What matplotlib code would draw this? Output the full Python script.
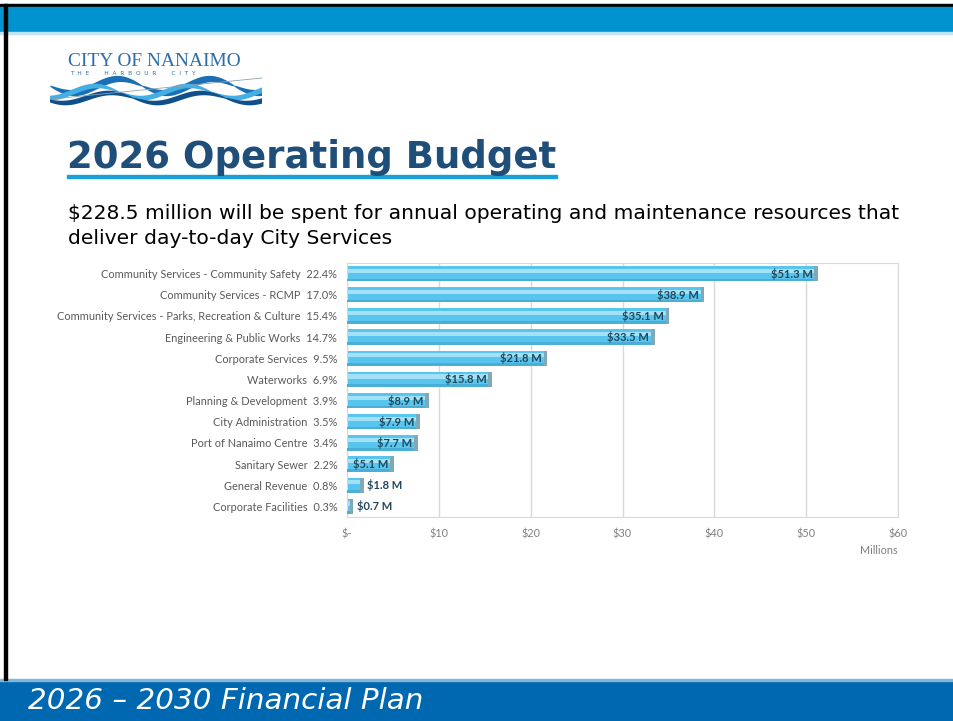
import numpy as np
import matplotlib
matplotlib.use("Agg")
import matplotlib.pyplot as plt
from matplotlib.patches import Rectangle, Polygon

# budget data (millions), top to bottom as shown
categories = [
    "Community Services - Community Safety",
    "Community Services - RCMP",
    "Community Services - Parks, Recreation & Culture",
    "Engineering & Public Works",
    "Corporate Services",
    "Waterworks",
    "Planning & Development",
    "City Administration",
    "Port of Nanaimo Centre",
    "Sanitary Sewer",
    "General Revenue",
    "Corporate Facilities",
]
percents = ["22.4%", "17.0%", "15.4%", "14.7%", "9.5%", "6.9%",
            "3.9%", "3.5%", "3.4%", "2.2%", "0.8%", "0.3%"]
amounts = [51.3, 38.9, 35.1, 33.5, 21.8, 15.8, 8.9, 7.9, 7.7, 5.1, 1.8, 0.7]
x_ticks = [0, 10, 20, 30, 40, 50, 60]
x_tick_labels = ["$-", "$10", "$20", "$30", "$40", "$50", "$60"]

W, H = 954, 721
fig = plt.figure(figsize=(W / 100, H / 100), dpi=100)
renderer = fig.canvas.get_renderer()


def fit_text(t, width_px):
    # shrink / grow font so the text spans the wanted pixel width
    w = t.get_window_extent(renderer).width
    t.set_fontsize(t.get_fontsize() * width_px / w)


# slide background layer in pixel coordinates
bg = fig.add_axes([0, 0, 1, 1])
bg.set_xlim(0, W)
bg.set_ylim(H, 0)
bg.axis("off")

bg.add_patch(Rectangle((0, 4), W, 3, color="black"))
bg.add_patch(Rectangle((0, 7), W, 25, color="#0093D0"))
bg.add_patch(Rectangle((0, 32), W, 2, color="#BFE3F3"))
bg.add_patch(Rectangle((0, 680), W, H - 680, color="#0067B1"))
bg.add_patch(Rectangle((0, 679), W, 1.5, color="#7FB6DD"))
bg.add_patch(Rectangle((4, 4), 3, 676, color="black"))

# logo
t = bg.text(68, 66, "CITY OF NANAIMO", family="Liberation Serif", fontsize=14,
            color="#2F6EA8", ha="left", va="baseline")
fit_text(t, 173)
bg.text(70, 75, "T  H  E        H  A  R  B  O  U  R        C  I  T  Y",
        family="DejaVu Sans", fontsize=4.2, color="#2F6EA8", va="baseline")
xs = np.linspace(50, 262, 200)
ph = (xs - 50) / 212
for off, amp, col, th, sh in [(86, 7, "#1B6FB5", 7, 0.0), (92, 6, "#45AEE3", 5, 0.25),
                              (98, 5, "#0E4F8C", 5, 0.1)]:
    yc = off + amp * np.sin((ph * 2.3 + sh) * 2 * np.pi)
    thick = th * np.sin(np.clip(((ph * 2.3 + sh) % 1.0), 0, 1) * np.pi) ** 0.6 + 0.5
    pts = np.column_stack([np.r_[xs, xs[::-1]], np.r_[yc - thick / 2, (yc + thick / 2)[::-1]]])
    bg.add_patch(Polygon(pts, closed=True, color=col, lw=0))
bg.plot([52, 262], [99, 78], color="#8FA3B0", lw=0.6)

# title and subtitle
t = bg.text(67, 168, "2026 Operating Budget", fontsize=30, fontweight="bold",
            family="DejaVu Sans", color="#1F4E79", va="baseline")
fit_text(t, 490)
bg.add_patch(Rectangle((67, 175), 490, 3, color="#1AA0D8"))
t = bg.text(68, 219, "$228.5 million will be spent for annual operating and maintenance resources that",
            fontsize=14, family="DejaVu Sans", color="black", va="baseline")
fit_text(t, 834)
bg.text(68, 244, "deliver day-to-day City Services",
        fontsize=t.get_fontsize(), family="DejaVu Sans", color="black", va="baseline")
t = bg.text(28, 709, "2026 \u2013 2030 Financial Plan", fontsize=20, family="DejaVu Sans",
            style="italic", color="white", va="baseline")
fit_text(t, 395)

# bar chart
ax = fig.add_axes([347 / W, (H - 517) / H, (898 - 347) / W, (517 - 263) / H])
y = np.arange(len(categories))
bh = 0.72
ax.barh(y, amounts, height=bh, color="#57C5EE", zorder=2)
ax.barh(y - 0.14, amounts, height=0.2, color="#A3E1F7", zorder=3)
ax.barh(y + bh / 2 - 0.06, amounts, height=0.12, color="#4AAFD6", zorder=3)
ax.barh(y, [0.4] * len(amounts), left=np.array(amounts) - 0.4, height=bh,
        color="#7FA8B8", zorder=4)

for yi, v in zip(y, amounts):
    lab = f"${v} M"
    if v >= 5:
        ax.text(v - 0.6, yi, lab, ha="right", va="center", fontsize=8,
                fontweight="bold", color="#21465A", family="Lato", zorder=5)
    else:
        ax.text(v + 0.4, yi, lab, ha="left", va="center", fontsize=8,
                fontweight="bold", color="#21465A", family="Lato", zorder=5)

ax.set_xlim(0, 60)
ax.set_ylim(len(categories) - 0.5, -0.5)
ax.set_xticks(x_ticks)
ax.set_xticklabels(x_tick_labels, fontsize=7.8, color="#7F7F7F", family="Lato")
ax.set_yticks(y)
ax.set_yticklabels([f"{c}  {p}" for c, p in zip(categories, percents)],
                   fontsize=7.9, color="#595959", family="Lato")
ax.tick_params(axis="y", length=0, pad=7)
ax.tick_params(axis="x", length=0, pad=8)
ax.grid(axis="x", color="#D9D9D9", lw=1, zorder=0)
for s in ax.spines.values():
    s.set_color("#D9D9D9")
ax.text(1.0, -0.11, "Millions", transform=ax.transAxes, ha="right", va="top",
        fontsize=7.8, color="#7F7F7F", family="Lato")

fig.savefig("out.png", dpi=100)
